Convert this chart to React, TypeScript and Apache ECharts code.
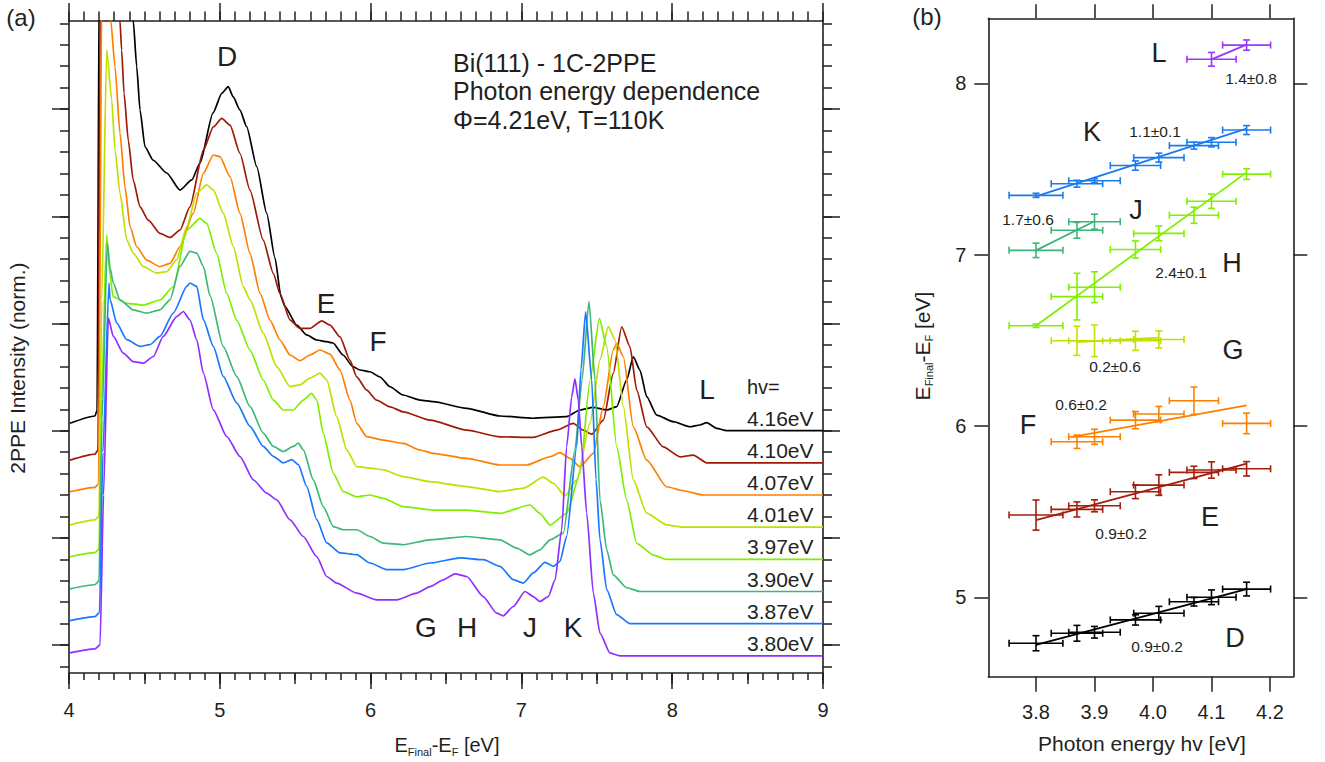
import React, { useEffect, useRef } from "react";
import * as echarts from "echarts";

// ---------------- Panel (a): 2PPE spectra (intensity above each trace's own baseline) ----------------
const HV_LABELS = ["4.16eV", "4.10eV", "4.07eV", "4.01eV", "3.97eV", "3.90eV", "3.87eV", "3.80eV"];
const OFFSETS = [3.0, 2.7, 2.4, 2.1, 1.8, 1.5, 1.2, 0.9];
const X_TICKS_A = [4, 5, 6, 7, 8, 9];

const S416 = [[4.007,0.069],[4.172,0.137],[4.186,0.19],[4.202,4.6],[4.41,4.6],[4.426,3.825],[4.449,3.396],[4.471,2.991],[4.504,2.649],[4.557,2.525],[4.648,2.404],[4.736,2.245],[4.814,2.339],[4.869,2.497],[4.955,2.964],[5.013,3.147],[5.056,3.209],[5.088,3.116],[5.134,2.991],[5.178,2.836],[5.245,2.463],[5.311,2.028],[5.366,1.611],[5.406,1.247],[5.432,1.157],[5.51,0.986],[5.576,0.893],[5.643,0.846],[5.709,0.83],[5.751,0.818],[5.817,0.706],[5.883,0.597],[5.93,0.566],[5.996,0.55],[6.062,0.501],[6.129,0.41],[6.215,0.333],[6.328,0.286],[6.414,0.271],[6.637,0.209],[6.858,0.137],[7.077,0.116],[7.3,0.131],[7.389,0.193],[7.475,0.218],[7.566,0.193],[7.632,0.224],[7.698,0.473],[7.742,0.69],[7.786,0.566],[7.831,0.317],[7.897,0.146],[8.007,0.084],[8.118,0.037],[8.184,0.053],[8.229,0.075],[8.295,0.022],[8.361,0],[9,0]];
const S410 = [[4.007,0.025],[4.172,0.081],[4.192,0.118],[4.209,4.7],[4.32,4.7],[4.338,4.123],[4.349,3.85],[4.365,3.446],[4.393,3.01],[4.426,2.637],[4.471,2.388],[4.526,2.264],[4.603,2.14],[4.67,2.103],[4.736,2.171],[4.802,2.388],[4.891,2.917],[4.957,3.134],[5.013,3.213],[5.068,3.15],[5.134,2.886],[5.2,2.544],[5.288,2.077],[5.355,1.767],[5.399,1.58],[5.466,1.331],[5.532,1.254],[5.598,1.254],[5.676,1.325],[5.731,1.285],[5.797,1.175],[5.863,0.958],[5.908,0.802],[5.974,0.678],[6.04,0.585],[6.129,0.522],[6.217,0.476],[6.394,0.398],[6.637,0.305],[6.858,0.243],[7.077,0.237],[7.234,0.305],[7.344,0.368],[7.411,0.305],[7.466,0.268],[7.543,0.398],[7.609,0.834],[7.665,1.269],[7.72,1.082],[7.765,0.678],[7.831,0.336],[7.941,0.149],[8.052,0.056],[8.14,0.072],[8.229,0],[9,0]];
const S407 = [[4.007,0.031],[4.172,0.072],[4.196,0.103],[4.219,5.0],[4.262,5.0],[4.277,4.425],[4.305,3.995],[4.338,3.377],[4.371,2.876],[4.405,2.503],[4.449,2.316],[4.515,2.192],[4.603,2.13],[4.67,2.161],[4.736,2.316],[4.824,2.628],[4.891,3.001],[4.957,3.172],[5.001,3.156],[5.068,2.969],[5.134,2.628],[5.2,2.255],[5.267,1.882],[5.333,1.632],[5.399,1.446],[5.466,1.306],[5.532,1.253],[5.598,1.306],[5.664,1.353],[5.731,1.315],[5.797,1.166],[5.863,0.886],[5.908,0.669],[5.974,0.544],[6.084,0.513],[6.217,0.481],[6.328,0.42],[6.414,0.389],[6.637,0.342],[6.858,0.28],[7.035,0.28],[7.19,0.357],[7.256,0.395],[7.322,0.342],[7.389,0.264],[7.477,0.389],[7.543,0.824],[7.609,1.353],[7.632,1.415],[7.676,1.29],[7.742,0.637],[7.831,0.326],[7.963,0.077],[8.074,0.04],[8.206,0],[9,0]];
const S401 = [[4.007,0.021],[4.172,0.068],[4.199,0.105],[4.217,2.12],[4.25,4.454],[4.283,3.986],[4.305,3.52],[4.338,3.118],[4.383,2.68],[4.426,2.556],[4.493,2.431],[4.582,2.369],[4.648,2.384],[4.714,2.493],[4.781,2.804],[4.847,3.116],[4.913,3.193],[4.957,3.146],[5.023,2.929],[5.09,2.618],[5.156,2.244],[5.2,2.122],[5.288,1.81],[5.377,1.498],[5.466,1.312],[5.532,1.328],[5.598,1.39],[5.664,1.437],[5.709,1.374],[5.775,1.032],[5.842,0.721],[5.908,0.565],[5.996,0.55],[6.084,0.535],[6.217,0.472],[6.394,0.425],[6.637,0.379],[6.858,0.332],[7.013,0.364],[7.145,0.466],[7.212,0.41],[7.289,0.292],[7.367,0.441],[7.455,0.97],[7.521,1.561],[7.576,1.871],[7.621,1.747],[7.676,1.125],[7.742,0.441],[7.831,0.131],[7.963,0.021],[8.074,0],[9,0]];
const S397 = [[4.007,0.024],[4.172,0.062],[4.199,0.096],[4.216,1.5],[4.249,3.025],[4.272,2.652],[4.292,2.45],[4.383,2.388],[4.493,2.372],[4.603,2.419],[4.692,2.543],[4.781,3.072],[4.869,3.181],[4.913,3.134],[4.979,2.854],[5.046,2.481],[5.112,2.232],[5.2,1.952],[5.288,1.673],[5.355,1.486],[5.421,1.393],[5.487,1.393],[5.554,1.486],[5.609,1.549],[5.643,1.486],[5.686,1.175],[5.753,0.802],[5.819,0.631],[5.908,0.584],[5.996,0.6],[6.084,0.569],[6.217,0.491],[6.416,0.46],[6.637,0.46],[6.858,0.429],[7.057,0.507],[7.123,0.429],[7.19,0.32],[7.3,0.429],[7.389,0.802],[7.455,1.673],[7.517,2.248],[7.566,1.983],[7.632,1.051],[7.698,0.553],[7.765,0.149],[7.875,0.04],[7.963,0],[9,0]];
const S390 = [[4.007,0.025],[4.172,0.063],[4.199,0.1],[4.219,1.6],[4.254,3.25],[4.272,3.02],[4.294,2.877],[4.338,2.721],[4.426,2.628],[4.515,2.597],[4.603,2.628],[4.67,2.721],[4.736,3.032],[4.802,3.172],[4.847,3.157],[4.891,3.032],[4.935,2.76],[5.023,2.285],[5.112,2.006],[5.2,1.726],[5.288,1.478],[5.355,1.353],[5.421,1.306],[5.487,1.353],[5.521,1.384],[5.554,1.322],[5.62,1.042],[5.686,0.793],[5.753,0.606],[5.819,0.576],[5.908,0.576],[5.996,0.513],[6.084,0.451],[6.217,0.436],[6.394,0.482],[6.637,0.513],[6.858,0.482],[6.969,0.405],[7.057,0.342],[7.123,0.389],[7.19,0.482],[7.278,0.545],[7.355,1.322],[7.402,1.975],[7.448,2.705],[7.488,1.975],[7.521,0.854],[7.566,0.389],[7.609,0.156],[7.698,0.035],[7.786,0],[9,0]];
const S387 = [[4.007,0.028],[4.172,0.065],[4.202,0.103],[4.225,1.6],[4.265,3.178],[4.272,3.022],[4.316,2.805],[4.383,2.649],[4.471,2.587],[4.537,2.603],[4.603,2.68],[4.692,2.898],[4.781,3.146],[4.802,3.178],[4.847,3.146],[4.891,2.836],[4.957,2.587],[5.023,2.307],[5.112,2.059],[5.2,1.84],[5.288,1.654],[5.355,1.561],[5.421,1.499],[5.477,1.53],[5.521,1.483],[5.576,1.281],[5.643,0.97],[5.709,0.753],[5.797,0.66],[5.908,0.644],[5.996,0.566],[6.107,0.504],[6.217,0.504],[6.394,0.566],[6.593,0.613],[6.747,0.597],[6.858,0.535],[6.946,0.41],[7.013,0.379],[7.079,0.473],[7.156,0.572],[7.212,0.535],[7.256,0.581],[7.3,0.814],[7.367,1.654],[7.395,2.369],[7.426,2.908],[7.466,2.276],[7.495,1.343],[7.521,0.784],[7.566,0.317],[7.632,0.084],[7.72,0],[9,0]];
const S380 = [[4.007,0.028],[4.172,0.065],[4.206,0.103],[4.229,1.5],[4.261,3.15],[4.294,2.979],[4.36,2.824],[4.426,2.745],[4.493,2.73],[4.559,2.792],[4.625,2.979],[4.714,3.165],[4.758,3.212],[4.802,3.134],[4.847,2.948],[4.891,2.637],[4.957,2.295],[5.046,2.046],[5.134,1.859],[5.222,1.642],[5.311,1.518],[5.377,1.455],[5.466,1.269],[5.554,1.113],[5.643,0.926],[5.709,0.74],[5.775,0.678],[5.908,0.585],[6.04,0.522],[6.173,0.522],[6.306,0.585],[6.394,0.646],[6.482,0.709],[6.56,0.765],[6.637,0.74],[6.747,0.553],[6.836,0.398],[6.88,0.373],[6.946,0.46],[7.024,0.6],[7.079,0.553],[7.123,0.507],[7.178,0.553],[7.223,0.709],[7.267,1.175],[7.3,1.952],[7.334,2.419],[7.355,2.584],[7.377,2.388],[7.4,1.952],[7.433,1.331],[7.477,0.585],[7.521,0.212],[7.588,0.025],[7.654,0],[9,0]];
const SPECTRA = [S416, S410, S407, S401, S397, S390, S387, S380];

// ---------------- Panel (b): peak positions vs photon energy ----------------
const HV = [3.80, 3.87, 3.90, 3.97, 4.01, 4.07, 4.10, 4.16];
const HV_ERR = [0.046, 0.044, 0.044, 0.043, 0.043, 0.042, 0.042, 0.041];

const D_HV = [3.80, 3.87, 3.90, 3.97, 4.01, 4.07, 4.10, 4.16];
const D_E = [4.732, 4.790, 4.796, 4.868, 4.907, 4.974, 5.000, 5.048];
const D_ERR = [0.044, 0.046, 0.034, 0.030, 0.040, 0.025, 0.043, 0.040];
const D_FIT = [[3.80, 4.722], [4.16, 5.048]];

const E_HV = [3.80, 3.87, 3.90, 3.97, 4.01, 4.07, 4.10, 4.16];
const E_E = [5.480, 5.513, 5.534, 5.616, 5.655, 5.729, 5.743, 5.750];
const E_ERR = [0.088, 0.044, 0.035, 0.040, 0.060, 0.036, 0.048, 0.042];
const E_FIT = [[3.80, 5.450], [4.16, 5.780]];

const F_HV = [3.87, 3.90, 3.97, 4.01, 4.07, 4.16];
const F_E = [5.908, 5.937, 6.034, 6.070, 6.147, 6.015];
const F_ERR = [0.039, 0.044, 0.050, 0.044, 0.080, 0.060];
const F_FIT = [[3.86, 5.935], [4.16, 6.120]];

const G_HV = [3.87, 3.90, 3.97, 4.01];
const G_E = [6.497, 6.497, 6.497, 6.505];
const G_ERR = [0.085, 0.092, 0.056, 0.050];
const G_FIT = [[3.87, 6.490], [4.01, 6.516]];

const H_HV = [3.80, 3.87, 3.90, 3.97, 4.01, 4.07, 4.10, 4.16];
const H_E = [6.585, 6.755, 6.810, 7.030, 7.124, 7.230, 7.312, 7.470];
const H_ERR = [0.010, 0.136, 0.090, 0.050, 0.043, 0.047, 0.042, 0.031];
const H_FIT = [[3.80, 6.585], [4.16, 7.480]];

const J_HV = [3.80, 3.87, 3.90];
const J_E = [7.025, 7.142, 7.192];
const J_ERR = [0.042, 0.046, 0.044];
const J_FIT = [[3.80, 7.025], [3.90, 7.195]];

const K_HV = [3.80, 3.87, 3.90, 3.97, 4.01, 4.07, 4.10, 4.16];
const K_E = [7.346, 7.414, 7.431, 7.520, 7.566, 7.636, 7.656, 7.727];
const K_ERR = [0.012, 0.020, 0.012, 0.027, 0.026, 0.020, 0.027, 0.026];
const K_FIT = [[3.80, 7.340], [4.16, 7.735]];

const L_HV = [4.10, 4.16];
const L_E = [8.140, 8.223];
const L_ERR = [0.040, 0.030];
const L_FIT = [[4.10, 8.140], [4.16, 8.226]];

const SLOPES = ["0.9±0.2", "0.9±0.2", "0.6±0.2", "0.2±0.6", "2.4±0.1", "1.7±0.6", "1.1±0.1", "1.4±0.8"];
const X_TICKS_B = [3.8, 3.9, 4.0, 4.1, 4.2];
const Y_TICKS_B = [5, 6, 7, 8];

// ---------------- styling ----------------
const INK = "#231f20";
const FONT = "'Liberation Sans', Arial, Helvetica, sans-serif";
const FONT_N = "'Liberation Sans Narrow', 'Arial Narrow', 'Liberation Sans', sans-serif";
const COLORS_A = ["#000000", "#9e1a08", "#ff7f00", "#c2e000", "#80ee00", "#3cb878", "#1a78ff", "#9030ff"];
const B_STATES = [
  { hv: D_HV, e: D_E, err: D_ERR, fit: D_FIT, color: "#000000" },
  { hv: E_HV, e: E_E, err: E_ERR, fit: E_FIT, color: "#a51d0c" },
  { hv: F_HV, e: F_E, err: F_ERR, fit: F_FIT, color: "#ff8000" },
  { hv: G_HV, e: G_E, err: G_ERR, fit: G_FIT, color: "#c5e000" },
  { hv: H_HV, e: H_E, err: H_ERR, fit: H_FIT, color: "#80f000" },
  { hv: J_HV, e: J_E, err: J_ERR, fit: J_FIT, color: "#3cb47a" },
  { hv: K_HV, e: K_E, err: K_ERR, fit: K_FIT, color: "#1a7aee" },
  { hv: L_HV, e: L_E, err: L_ERR, fit: L_FIT, color: "#9a36ff" },
];

// layout (pixels)
const A = { left: 69, top: 21, right: 823, bottom: 673 };
const A_PX_PER_UNIT = 107.2; // vertical scale of panel (a)
const A_REF_PX = 430.7; // pixel row of value 3.0
const aPix = (v: number) => A_REF_PX - (v - 3) * A_PX_PER_UNIT;
const aVal = (py: number) => 3 + (A_REF_PX - py) / A_PX_PER_UNIT;
const B = { left: 988.3, top: 18.3, right: 1293.3, bottom: 676.7 };
const B_X0 = 1036, B_X1 = 1270; // pixel columns of 3.8 and 4.2
const B_Y5 = 597.3, B_Y8 = 83.3; // pixel rows of 5 and 8

function txt(text: string, x: number, y: number, size: number, extra: any = {}) {
  const align = extra.align || "center";
  return {
    type: "text",
    x, y,
    rotation: extra.rotation || 0,
    z: 100,
    style: {
      text,
      fill: INK,
      font: `${size}px ${extra.family || FONT}`,
      lineHeight: extra.lineHeight,
      align, verticalAlign: "middle",
      textAlign: align, textVerticalAlign: "middle",
      rich: extra.rich,
    },
  };
}

function richName(size: number, sub: number, family: string) {
  return {
    text: "{m|E}{s|Final}{m|-E}{s|F}{m| [eV]}",
    rich: {
      m: { fontSize: size, fontFamily: family, fill: INK, lineHeight: size + 4 },
      s: { fontSize: sub, fontFamily: family, fill: INK, lineHeight: sub + 1, verticalAlign: "bottom" },
    },
  };
}

function errRender(color: string) {
  return (params: any, api: any) => {
    const x = api.value(0), y = api.value(1), xe = api.value(2), ye = api.value(3);
    const l = api.coord([x - xe, y]), r = api.coord([x + xe, y]);
    const t = api.coord([x, y + ye]), b = api.coord([x, y - ye]);
    const c = 3.5;
    const st = { stroke: color, lineWidth: 1.6 };
    const ln = (x1: number, y1: number, x2: number, y2: number) => ({ type: "line", shape: { x1, y1, x2, y2 }, style: st });
    return {
      type: "group",
      children: [
        ln(l[0], l[1], r[0], r[1]),
        ln(l[0], l[1] - c, l[0], l[1] + c),
        ln(r[0], r[1] - c, r[0], r[1] + c),
        ln(t[0], t[1], b[0], b[1]),
        ln(t[0] - c, t[1], t[0] + c, t[1]),
        ln(b[0] - c, b[1], b[0] + c, b[1]),
      ],
    };
  };
}

export default function App() {
  const ref = useRef<HTMLDivElement>(null);
  useEffect(() => {
    if (!ref.current) return;
    const chart = echarts.init(ref.current, undefined, { renderer: "svg" });
    const line = { lineStyle: { color: INK, width: 1.6 } };
    const tick = (len: number) => ({ show: true, length: len, inside: false, lineStyle: { color: INK, width: 1.5 } });
    const base = { type: "value", splitLine: { show: false }, axisLabel: { show: false }, axisTick: { show: false } };

    const aW = A.right - A.left, aH = A.bottom - A.top;
    const bW = B.right - B.left, bH = B.bottom - B.top;
    const bxPer = (B_X1 - B_X0) / 0.4;
    const byPer = (B_Y5 - B_Y8) / 3;

    const grid = [
      { left: A.left, top: A.top, width: aW, height: aH },
      { left: A.left, width: aW, top: aPix(6.8), height: aPix(0.8) - aPix(6.8) },
      { left: A.left, width: aW, top: aPix(6), height: aPix(1) - aPix(6) },
      { left: B.left, top: B.top, width: bW, height: bH },
      { left: B_X0, top: B_Y8, width: B_X1 - B_X0, height: B_Y5 - B_Y8 },
    ];

    const xAxis: any[] = [
      { ...base, gridIndex: 0, position: "bottom", min: X_TICKS_A[0], max: X_TICKS_A[X_TICKS_A.length - 1], interval: 1,
        axisLine: { show: true, onZero: false, ...line }, axisTick: tick(16),
        axisLabel: { show: true, margin: 27, fontSize: 20, fontFamily: FONT_N, color: INK, showMinLabel: true, showMaxLabel: true } },
      { ...base, gridIndex: 0, position: "bottom", min: 4, max: 9, interval: 0.5, axisLine: { show: false, onZero: false }, axisTick: tick(11) },
      { ...base, gridIndex: 0, position: "bottom", min: 4, max: 9, interval: 0.1, axisLine: { show: false, onZero: false }, axisTick: tick(7) },
      { ...base, gridIndex: 0, position: "top", min: 4, max: 9, interval: 1, axisLine: { show: true, onZero: false, ...line }, axisTick: tick(18) },
      { ...base, gridIndex: 0, position: "top", min: 4, max: 9, interval: 0.1, axisLine: { show: false, onZero: false }, axisTick: tick(9.5) },
      { ...base, gridIndex: 1, show: false, min: 4, max: 9 },
      { ...base, gridIndex: 2, show: false, min: 4, max: 9 },
      { ...base, gridIndex: 3, position: "bottom", min: 3.8 - (B_X0 - B.left) / bxPer, max: 4.2 + (B.right - B_X1) / bxPer,
        axisLine: { show: true, onZero: false, ...line } },
      { ...base, gridIndex: 3, position: "top", min: 3.8 - (B_X0 - B.left) / bxPer, max: 4.2 + (B.right - B_X1) / bxPer,
        axisLine: { show: true, onZero: false, ...line } },
      { ...base, gridIndex: 4, position: "bottom", min: X_TICKS_B[0], max: X_TICKS_B[X_TICKS_B.length - 1], interval: 0.1,
        offset: B.bottom - B_Y5, axisLine: { show: false, onZero: false }, axisTick: tick(15),
        axisLabel: { show: true, margin: 25, fontSize: 20, fontFamily: FONT, color: INK, formatter: (v: number) => v.toFixed(1),
          showMinLabel: true, showMaxLabel: true } },
      { ...base, gridIndex: 4, position: "top", min: 3.8, max: 4.2, interval: 0.1, offset: B_Y8 - B.top,
        axisLine: { show: false, onZero: false }, axisTick: tick(14) },
    ];

    const yAxis: any[] = [
      { ...base, gridIndex: 0, position: "left", min: aVal(A.bottom), max: aVal(A.top), axisLine: { show: true, onZero: false, ...line } },
      { ...base, gridIndex: 0, position: "right", min: aVal(A.bottom), max: aVal(A.top), axisLine: { show: true, onZero: false, ...line } },
      { ...base, gridIndex: 1, position: "left", min: 0.8, max: 6.8, interval: 0.2, axisLine: { show: false, onZero: false }, axisTick: tick(9) },
      { ...base, gridIndex: 1, position: "right", min: 0.8, max: 6.8, interval: 0.2, axisLine: { show: false, onZero: false }, axisTick: tick(9) },
      { ...base, gridIndex: 2, position: "left", min: 1, max: 6, interval: 1, axisLine: { show: false, onZero: false }, axisTick: tick(17) },
      { ...base, gridIndex: 2, position: "right", min: 1, max: 6, interval: 1, axisLine: { show: false, onZero: false }, axisTick: tick(17) },
      { ...base, gridIndex: 3, position: "left", min: 5 - (B.bottom - B_Y5) / byPer, max: 8 + (B_Y8 - B.top) / byPer,
        axisLine: { show: true, onZero: false, ...line } },
      { ...base, gridIndex: 3, position: "right", min: 5 - (B.bottom - B_Y5) / byPer, max: 8 + (B_Y8 - B.top) / byPer,
        axisLine: { show: true, onZero: false, ...line } },
      { ...base, gridIndex: 4, position: "left", min: Y_TICKS_B[0], max: Y_TICKS_B[Y_TICKS_B.length - 1], interval: 1,
        offset: B_X0 - B.left, axisLine: { show: false, onZero: false }, axisTick: tick(14),
        axisLabel: { show: true, margin: 22, fontSize: 20, fontFamily: FONT, color: INK, showMinLabel: true, showMaxLabel: true } },
      { ...base, gridIndex: 4, position: "right", min: 5, max: 8, interval: 1, offset: B.right - B_X1,
        axisLine: { show: false, onZero: false }, axisTick: tick(14) },
    ];

    const series: any[] = [];
    SPECTRA.forEach((s, i) => {
      series.push({
        type: "line", xAxisIndex: 0, yAxisIndex: 0, symbol: "none", clip: true, z: 3,
        smooth: 0.2, smoothMonotone: "x",
        data: s.map(([x, v]) => [x, OFFSETS[i] + v]),
        lineStyle: { color: COLORS_A[i], width: 1.7 },
      });
    });
    B_STATES.forEach((st) => {
      series.push({
        type: "line", xAxisIndex: 7, yAxisIndex: 6, symbol: "none", z: 3,
        data: st.fit, lineStyle: { color: st.color, width: 1.8 },
      });
      series.push({
        type: "custom", xAxisIndex: 7, yAxisIndex: 6, z: 4,
        encode: { x: 0, y: 1 },
        renderItem: errRender(st.color),
        data: st.hv.map((h, k) => [h, st.e[k], HV_ERR[HV.indexOf(h)], st.err[k]]),
      });
    });

    const graphic: any[] = [
      txt("(a)", 21, 17, 24),
      txt("(b)", 927, 16, 24),
      txt("Bi(111) - 1C-2PPE", 453, 62.5, 25, { align: "left", lineHeight: 24 }),
      txt("Photon energy dependence", 453, 91, 25, { align: "left", lineHeight: 24 }),
      txt("Φ=4.21eV, T=110K", 453, 119.5, 25, { align: "left", lineHeight: 24 }),
      txt("D", 227, 56, 28), txt("E", 326, 303, 28), txt("F", 378, 341, 28), txt("L", 707, 389, 28),
      txt("G", 426, 627, 28), txt("H", 467, 627, 28), txt("J", 530, 627, 28), txt("K", 573, 627, 28),
      txt("hv=", 747, 387, 20, { align: "left" }),
      ...HV_LABELS.map((s, i) => txt(s, 747, aPix(OFFSETS[i]) - 12.5, 21, { align: "left" })),
      txt("2PPE Intensity (norm.)", 17, 368, 21, { rotation: Math.PI / 2 }),
      (() => { const r = richName(20, 11, FONT_N); return txt(r.text, 447, 745, 20, { rich: r.rich, family: FONT_N }); })(),
      txt("Photon energy hv [eV]", 1142, 743, 21),
      (() => { const r = richName(21, 11, FONT); return txt(r.text, 922, 346, 21, { rich: r.rich, rotation: Math.PI / 2 }); })(),
      // panel (b) state letters and slopes
      txt("L", 1159, 53, 27), txt(SLOPES[7], 1251, 78, 15.5),
      txt("K", 1092, 132, 27), txt(SLOPES[6], 1155, 131, 15.5),
      txt("J", 1136, 210, 27), txt(SLOPES[5], 1028, 219, 15.5),
      txt("H", 1232, 263, 27), txt(SLOPES[4], 1181, 272, 15.5),
      txt("G", 1233, 350, 27), txt(SLOPES[3], 1115, 366, 15.5),
      txt(SLOPES[2], 1081, 404, 15.5), txt("F", 1028, 425, 27),
      txt("E", 1210, 517, 27), txt(SLOPES[1], 1121, 533, 15.5),
      txt("D", 1235, 638, 27), txt(SLOPES[0], 1157, 646, 15.5),
    ];

    chart.setOption({
      animation: false,
      backgroundColor: "#ffffff",
      grid, xAxis, yAxis, series, graphic,
    });
    return () => chart.dispose();
  }, []);
  return <div ref={ref} style={{ position: "fixed", left: 0, top: 0, width: 1325, height: 762, background: "#fff" }} />;
}
